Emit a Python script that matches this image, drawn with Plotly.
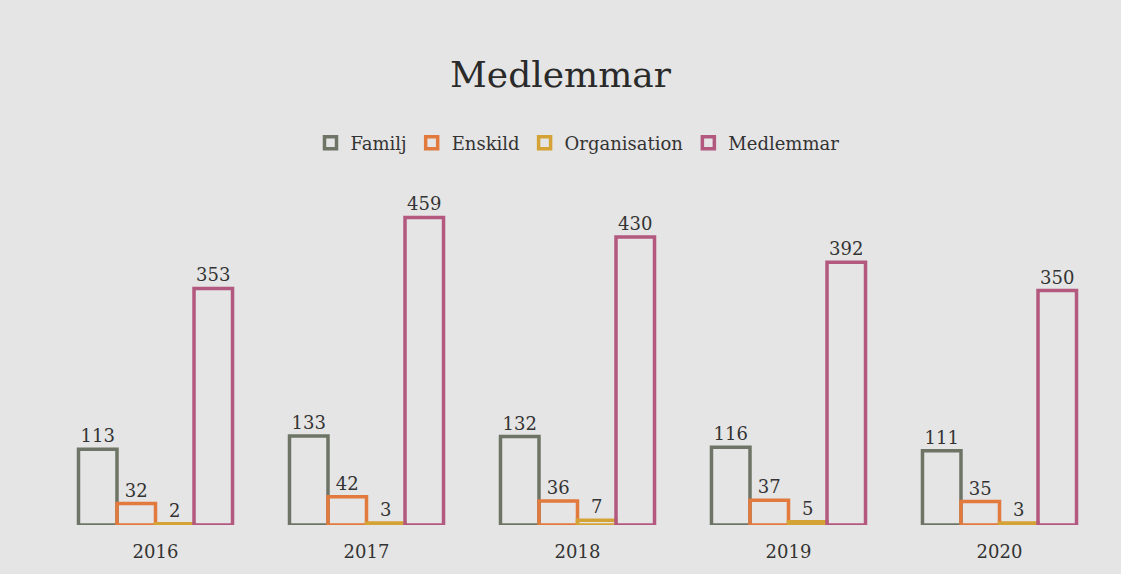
import plotly.graph_objects as go

years = ["2016", "2017", "2018", "2019", "2020"]
familj = [113, 133, 132, 116, 111]
enskild = [32, 42, 36, 37, 35]
organisation = [2, 3, 7, 5, 3]
medlemmar = [353, 459, 430, 392, 350]

series = [
    ("Familj", familj, "#6f7566"),
    ("Enskild", enskild, "#e27a3e"),
    ("Organisation", organisation, "#d5a235"),
    ("Medlemmar", medlemmar, "#b3587f"),
]

fig = go.Figure()
for name, vals, col in series:
    fig.add_trace(go.Bar(
        x=years, y=vals, name=name,
        marker=dict(color="rgba(0,0,0,0)", line=dict(color=col, width=3.5)),
        text=[str(v) for v in vals], textposition="outside",
        textfont=dict(family="DejaVu Serif", size=18, color="#333333"),
        cliponaxis=False,
    ))

fig.update_layout(
    width=1121, height=574,
    paper_bgcolor="#e5e5e5", plot_bgcolor="#e5e5e5",
    margin=dict(l=50, r=16, t=190, b=47),
    bargap=0.27, bargroupgap=0.0,
    title=dict(text="Medlemmar", x=0.5, xanchor="center", y=0.87, yanchor="middle",
               font=dict(family="DejaVu Serif", size=36, color="#2a2a2a")),
    legend=dict(orientation="h", x=0.5, xanchor="center", y=1.14, yanchor="middle",
                font=dict(family="DejaVu Serif", size=18, color="#333333"),
                itemwidth=30, bgcolor="rgba(0,0,0,0)"),
    showlegend=True,
    xaxis=dict(showgrid=False, showline=False, ticks="", ticklabelstandoff=14,
               tickfont=dict(family="DejaVu Serif", size=18, color="#333333")),
    yaxis=dict(range=[0, 500], visible=False),
)

fig.write_html("out.html")
